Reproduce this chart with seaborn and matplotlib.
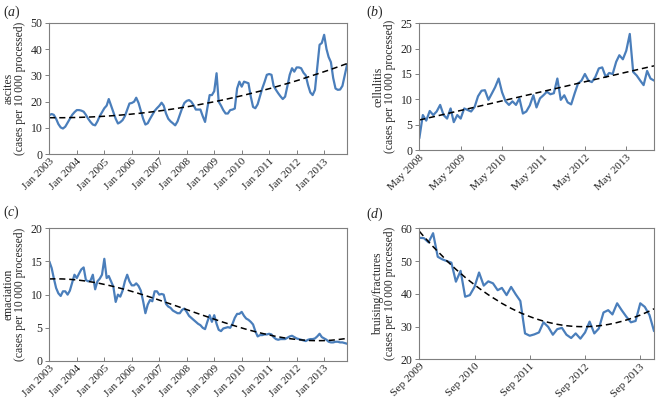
import numpy as np
import pandas as pd
import matplotlib
matplotlib.use('Agg')
import matplotlib.pyplot as plt
import seaborn as sns

# monthly rates (cases per 10 000 processed)
ascites = [
    14.9, 15.3, 15.0, 13.5, 11.5, 10.2, 9.8, 10.5, 12.0, 13.5, 15.0, 16.0,
    16.8, 16.8, 16.6, 16.2, 15.0, 13.5, 12.3, 11.3, 11.0, 12.5, 14.5, 16.0,
    17.5, 18.5, 21.0, 18.5, 16.0, 13.5, 11.7, 12.2, 13.0, 14.5, 17.0, 19.3,
    19.5, 20.0, 21.5, 19.5, 16.5, 13.5, 11.3, 11.8, 13.5, 15.0, 16.5, 17.5,
    18.4, 19.6, 18.5, 15.5, 13.5, 12.5, 11.8, 11.0, 12.5, 15.0, 17.5, 19.5,
    20.3, 20.6, 20.0, 18.7, 17.0, 17.0, 17.0, 14.5, 12.3, 17.5, 22.5, 22.5,
    24.0, 30.8, 20.0, 18.5, 16.8, 15.5, 15.5, 16.8, 17.0, 17.4, 25.0, 27.6,
    25.7, 27.6, 27.3, 27.0, 22.0, 18.0, 17.5, 19.0, 22.0, 25.0, 27.5, 30.2,
    30.5, 30.2, 26.0, 24.5, 23.2, 22.0, 21.0, 21.9, 26.0, 30.2, 32.7, 31.4,
    33.0, 33.0, 32.7, 31.0, 30.0, 26.3, 23.5, 22.5, 24.5, 33.0, 41.6, 42.3,
    45.4, 40.0, 37.0, 35.0, 29.0, 25.0, 24.5, 24.6, 26.0, 30.0, 34.0,
]
cellulitis = [
    2.3, 6.9, 5.8, 7.7, 6.9, 7.6, 8.9, 6.9, 6.2, 8.2, 5.5, 6.9,
    6.2, 8.2, 7.9, 7.6, 8.5, 10.6, 11.7, 11.8, 9.9, 11.2, 12.4, 14.1,
    11.4, 9.6, 8.9, 9.6, 8.9, 10.2, 7.2, 7.6, 8.8, 10.8, 8.4, 10.2,
    10.8, 11.5, 11.0, 11.2, 14.1, 9.9, 10.8, 9.4, 9.0, 11.2, 13.1, 13.7,
    15.0, 13.7, 13.4, 14.4, 16.1, 16.3, 14.4, 15.2, 15.0, 17.4, 18.7, 17.9,
    19.6, 22.9, 15.4, 14.7, 13.7, 12.8, 15.6, 14.1, 13.7,
]
emaciation = [
    15.0, 14.0, 12.5, 11.0, 10.2, 9.8, 10.5, 10.5, 10.0, 10.6, 11.8, 13.0,
    12.5, 13.2, 13.8, 14.1, 12.2, 12.0, 12.1, 13.0, 10.8, 12.0, 12.4, 13.0,
    15.4, 12.5, 12.8, 12.0, 11.2, 8.9, 10.0, 9.7, 10.6, 12.0, 13.0, 12.0,
    11.4, 11.4, 11.7, 11.3, 10.6, 9.0, 7.2, 8.5, 9.2, 9.0, 10.5, 10.5,
    10.0, 10.1, 10.0, 8.6, 8.2, 8.0, 7.6, 7.4, 7.2, 7.2, 7.7, 7.9,
    7.4, 6.8, 6.5, 6.2, 5.9, 5.6, 5.4, 5.0, 4.8, 5.9, 6.9, 5.9,
    6.9, 5.6, 4.7, 4.5, 4.9, 5.0, 5.1, 5.0, 5.6, 6.5, 7.1, 7.1,
    7.4, 6.8, 6.4, 6.2, 5.9, 5.5, 4.5, 3.7, 3.9, 3.9, 4.0, 4.0,
    4.1, 4.0, 3.6, 3.3, 3.2, 3.3, 3.3, 3.3, 3.5, 3.7, 3.8, 3.6,
    3.4, 3.3, 3.2, 3.1, 3.0, 3.2, 3.3, 3.3, 3.4, 3.7, 4.1, 3.6,
    3.4, 3.2, 2.9, 2.8, 2.8, 2.9, 2.9, 2.8, 2.8, 2.7, 2.6,
]
bruising = [
    57.1, 57.0, 55.7, 58.5, 51.3, 50.5, 50.0, 49.5, 43.7, 47.0, 39.1, 39.6,
    42.1, 46.5, 42.5, 43.8, 43.2, 41.1, 41.8, 39.6, 42.1, 39.8, 37.8, 27.9,
    27.2, 27.6, 28.2, 31.3, 29.9, 27.5, 29.2, 29.6, 27.5, 26.5, 27.9, 26.3,
    28.2, 31.5, 27.9, 29.4, 34.3, 35.0, 33.7, 37.1, 35.0, 33.0, 31.3, 31.7,
    37.1, 36.0, 33.5, 28.6,
]

starts = ['2003-01-01', '2008-05-01', '2003-01-01', '2009-09-01']
tick_starts = ['2003-01-01', '2008-05-01', '2003-01-01', '2009-09-01']
tick_ends = ['2013-01-01', '2013-05-01', '2013-01-01', '2013-09-01']
series = [ascites, cellulitis, emaciation, bruising]
names = ['ascites', 'cellulitis', 'emaciation', 'bruising/fractures']
letters = ['a', 'b', 'c', 'd']
ylims = [(0, 50), (0, 25), (0, 20), (20, 60)]
ysteps = [10, 5, 5, 10]
trend_deg = [2, 1, 3, 2]

sns.set_style('ticks')
plt.rcParams['font.family'] = ['Liberation Serif', 'DejaVu Serif']
plt.rcParams['mathtext.fontset'] = 'custom'
plt.rcParams['mathtext.rm'] = 'Liberation Serif'
plt.rcParams['mathtext.it'] = 'Liberation Serif:italic'

BLUE = '#4a7ebb'
GREY = '#7f7f7f'

fig = plt.figure(figsize=(6.56, 4.01), dpi=100)
boxes = [
    [0.0752, 0.6152, 0.4538, 0.3282],
    [0.6392, 0.6259, 0.3578, 0.3160],
    [0.0752, 0.0998, 0.4538, 0.3309],
    [0.6392, 0.1040, 0.3578, 0.3267],
]
letter_pos = [(0.004, 0.992), (0.558, 0.992), (0.004, 0.492), (0.558, 0.487)]

for i in range(4):
    ax = fig.add_axes(boxes[i])
    vals = np.array(series[i])
    dates = pd.date_range(starts[i], periods=len(vals), freq='MS')
    df = pd.DataFrame({'date': dates, 'value': vals})

    # fitted trend
    t = np.arange(len(vals))
    coef = np.polyfit(t, vals, trend_deg[i])
    df['trend'] = np.polyval(coef, t)

    sns.lineplot(data=df, x='date', y='value', ax=ax, color=BLUE, lw=1.6)
    sns.lineplot(data=df, x='date', y='trend', ax=ax, color='black',
                 lw=1.1, linestyle=(0, (4, 2.5)))

    ax.set_xlim(dates[0], dates[-1])
    ax.set_ylim(*ylims[i])
    ax.set_yticks(np.arange(ylims[i][0], ylims[i][1] + 0.1, ysteps[i]))
    ticks = pd.date_range(tick_starts[i], tick_ends[i], freq='12MS')
    ax.set_xticks(ticks)
    ax.set_xticklabels([d.strftime('%b %Y') for d in ticks], rotation=45,
                       ha='right', rotation_mode='anchor', fontsize=8.2)
    ax.tick_params(axis='y', labelsize=8.5, length=3, width=0.7, color=GREY,
                   direction='out', pad=2)
    ax.tick_params(axis='x', length=3, width=0.7, color=GREY, direction='in',
                   pad=2)
    for s in ax.spines.values():
        s.set_color(GREY)
        s.set_linewidth(0.8)
    ax.set_xlabel('')
    ax.set_ylabel(names[i] + '\n(cases per 10\u2009000 processed)',
                  fontsize=8.4, linespacing=1.0, labelpad=3)
    fig.text(letter_pos[i][0], letter_pos[i][1],
             '(' + r'$\mathit{' + letters[i] + '}$' + ')',
             fontsize=10, va='top', ha='left')

fig.savefig('out.png', dpi=100)
